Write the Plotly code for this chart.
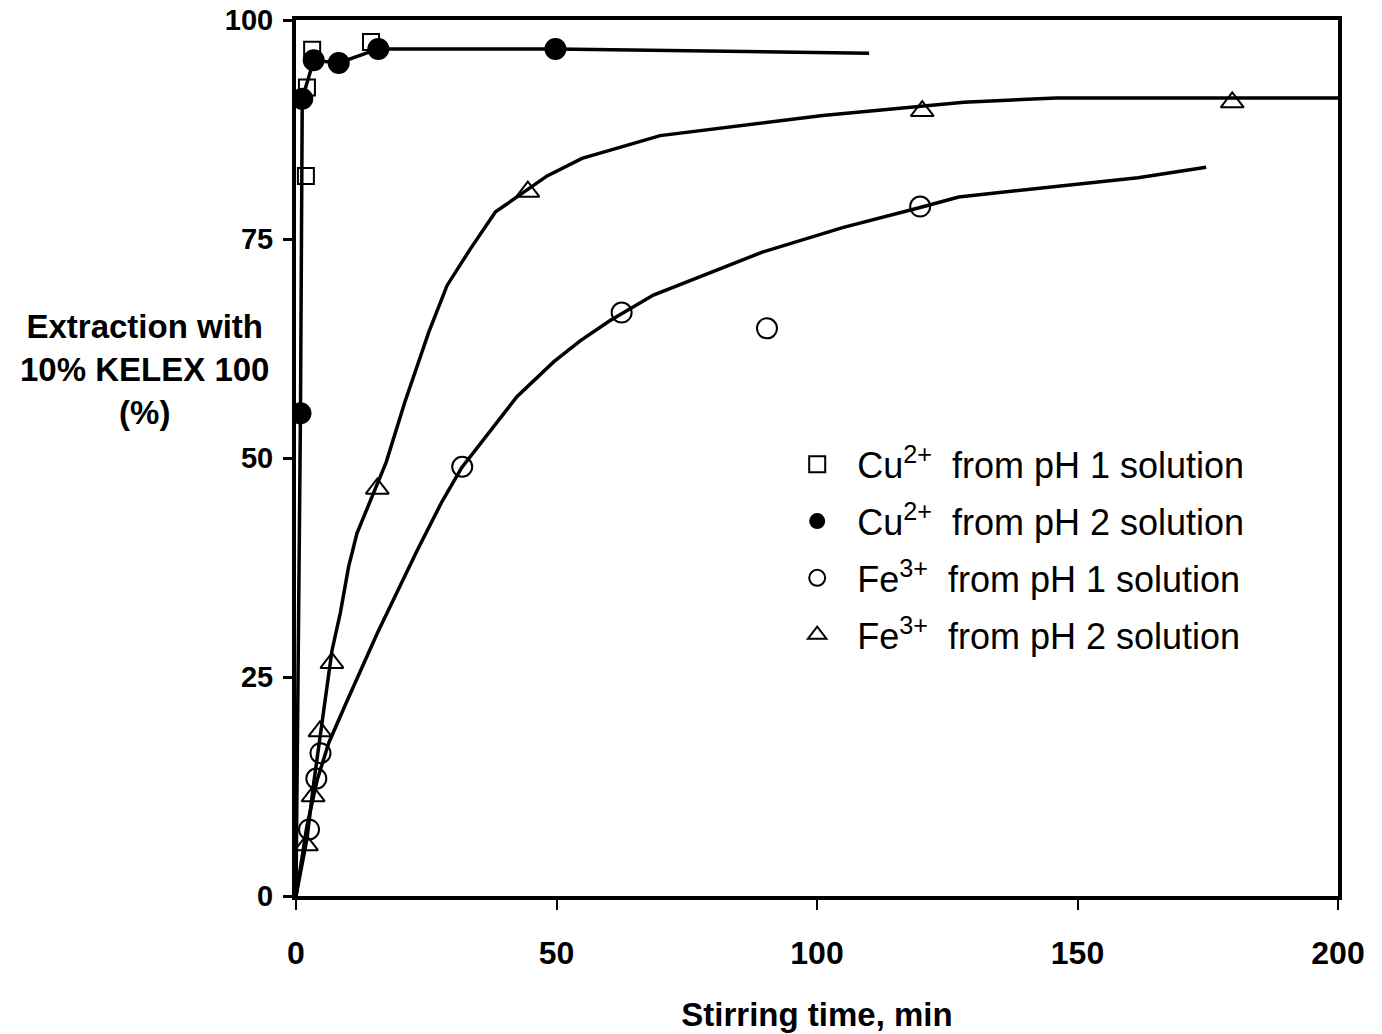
import plotly.graph_objects as go

# ---- data ----
cu_ph1_t = [1.9, 2.1, 3.1, 14.4]
cu_ph1_e = [82.2, 92.3, 96.6, 97.5]

cu_ph2_t = [0.86, 1.2, 3.4, 8.2, 15.8, 49.8]
cu_ph2_e = [55.1, 91.0, 95.4, 95.1, 96.7, 96.7]

fe_ph1_t = [2.5, 3.9, 4.7, 31.9, 62.5, 90.4, 119.8]
fe_ph1_e = [7.6, 13.4, 16.3, 49.0, 66.6, 64.8, 78.7]

fe_ph2_t = [2.0, 3.3, 4.6, 6.9, 15.6, 44.5, 120.2, 179.7]
fe_ph2_e = [5.8, 11.4, 18.8, 26.6, 46.5, 80.4, 89.6, 90.6]

# trend curves drawn through the data
cu_ph2_fit_t = [0, 0.86, 1.2, 3.4, 8.2, 15.8, 49.8, 110]
cu_ph2_fit_e = [0, 55.1, 91.0, 95.4, 95.1, 96.7, 96.7, 96.2]

fe_ph1_fit_t = [0, 2.1, 4.1, 6.3, 9.6, 15.6, 23.3, 28.0, 31.8, 37.3, 42.4, 49.5,
                54.6, 60.3, 68.6, 89.5, 104.9, 119.8, 127.2, 161.6, 174.7]
fe_ph1_fit_e = [0, 8.0, 13.3, 17.5, 22.0, 30.0, 39.5, 45.0, 48.9, 53.1, 57.0, 61.0,
                63.4, 65.7, 68.6, 73.5, 76.3, 78.6, 79.8, 82.0, 83.2]

fe_ph2_fit_t = [0, 2.1, 3.4, 5.0, 6.9, 8.5, 10.1, 11.7, 13.7, 15.6, 17.3, 20.9,
                25.5, 29.0, 33.5, 38.3, 43.7, 48.2, 54.9, 69.9, 101.1, 128.2, 145.9, 200]
fe_ph2_fit_e = [0, 6.5, 12.9, 19.8, 28.0, 32.3, 37.6, 41.4, 44.3, 46.9, 49.5, 56.4,
                64.4, 69.7, 73.9, 78.1, 80.3, 82.2, 84.2, 86.8, 89.1, 90.6, 91.1, 91.1]

x_ticks = [0, 50, 100, 150, 200]
y_ticks = [0, 25, 50, 75, 100]

labels = [
    "\u00a0\u00a0Cu<sup>2+</sup>\u00a0 from pH 1 solution",
    "\u00a0\u00a0Cu<sup>2+</sup>\u00a0 from pH 2 solution",
    "\u00a0\u00a0Fe<sup>3+</sup>\u00a0 from pH 1 solution",
    "\u00a0\u00a0Fe<sup>3+</sup>\u00a0 from pH 2 solution",
]

FONT = "Liberation Sans, Arial, sans-serif"
LW = 3.5

fig = go.Figure()

# fit lines
for t, e in [(cu_ph2_fit_t, cu_ph2_fit_e), (fe_ph1_fit_t, fe_ph1_fit_e), (fe_ph2_fit_t, fe_ph2_fit_e)]:
    fig.add_trace(go.Scatter(x=t, y=e, mode="lines", line=dict(color="black", width=LW),
                             showlegend=False, hoverinfo="skip"))

# markers
fig.add_trace(go.Scatter(x=cu_ph1_t, y=cu_ph1_e, mode="markers", name=labels[0], legendgroup="a",
                         marker=dict(symbol="square-open", size=16, color="black", line=dict(width=2))))
fig.add_trace(go.Scatter(x=cu_ph2_t, y=cu_ph2_e, mode="markers", name=labels[1], legendgroup="b",
                         marker=dict(symbol="circle", size=22, color="black", line=dict(width=0))))
fig.add_trace(go.Scatter(x=fe_ph1_t, y=fe_ph1_e, mode="markers", name=labels[2], legendgroup="c",
                         marker=dict(symbol="circle-open", size=20, color="black", line=dict(width=2))))
fig.add_trace(go.Scatter(x=fe_ph2_t, y=fe_ph2_e, mode="markers", name=labels[3], legendgroup="d",
                         marker=dict(symbol="triangle-up-open", size=20, color="black", line=dict(width=2))))

axis_common = dict(showline=True, mirror=True, linewidth=4, linecolor="black",
                   showgrid=False, zeroline=False, ticks="outside", tickcolor="black",
                   automargin=False)

fig.update_xaxes(range=[0, 200], tickvals=x_ticks, ticklen=10, tickwidth=1.5,
                 tickfont=dict(family=FONT, size=32, color="black", weight="bold"),
                 ticklabelstandoff=16,
                 title=dict(text="<b>Stirring time, min</b>", standoff=33,
                            font=dict(family=FONT, size=33, color="black")),
                 **axis_common)
fig.update_yaxes(range=[0, 100], tickvals=y_ticks, ticklen=9, tickwidth=3,
                 tickfont=dict(family=FONT, size=29, color="black", weight="bold"),
                 ticklabelstandoff=4,
                 **axis_common)

fig.add_annotation(text="<b>Extraction with<br>10% KELEX 100<br>(%)</b>",
                   xref="paper", yref="paper", x=-0.145, y=0.6005,
                   xanchor="center", yanchor="middle", showarrow=False,
                   font=dict(family=FONT, size=33, color="black"))

fig.update_layout(
    width=1382, height=1034,
    margin=dict(l=296, r=44, t=20, b=138),
    plot_bgcolor="white", paper_bgcolor="white",
    font=dict(family=FONT, color="black"),
    legend=dict(x=0.481, y=0.527, xanchor="left", yanchor="top",
                font=dict(family=FONT, size=36, color="black"),
                bgcolor="rgba(0,0,0,0)", tracegroupgap=7, itemsizing="trace"),
    showlegend=True,
)

fig.write_html("out.html")
